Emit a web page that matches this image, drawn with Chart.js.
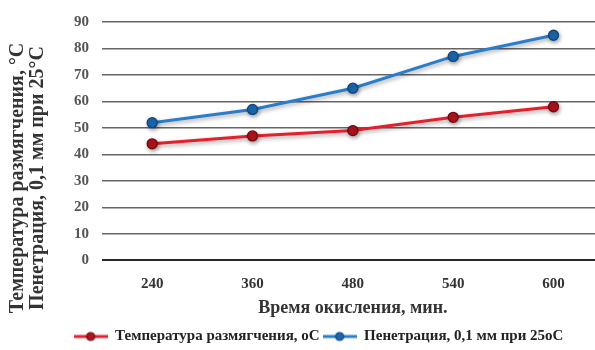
<!DOCTYPE html>
<html lang="ru">
<head>
<meta charset="utf-8">
<title>Время окисления</title>
<script src="https://cdn.jsdelivr.net/npm/chart.js@4/dist/chart.umd.min.js"></script>
<style>
  html, body { margin: 0; padding: 0; background: #fff; overflow: hidden; }
  #wrap { width: 610px; height: 350px; position: relative; }
</style>
</head>
<body>
<div id="wrap"><canvas id="grafico"></canvas></div>
<script>
/* ── Данные ─────────────────────────────────────────────── */
const categorias = ['240', '360', '480', '540', '600'];
const temperaturaRazmyagcheniya = [44, 47, 49, 54, 58];
const penetraciya = [52, 57, 65, 77, 85];
const nomeSeries = ['Температура размягчения, оС', 'Пенетрация, 0,1 мм при 25оС'];
const tituloEixoY = ['Температура размягчения, °С', 'Пенетрация, 0,1 мм при 25°С'];
const tituloEixoX = 'Время окисления, мин.';
const eixoYMin = 0, eixoYMax = 90, eixoYPasso = 10;

const FONTE = '"Liberation Serif", "Times New Roman", serif';
const VERMELHO = { linha: '#e51f2b', ponto: '#b3121e', borda: '#6e0a10' };
const AZUL     = { linha: '#2a7dcb', ponto: '#1a69b2', borda: '#0f4478' };

// Marcador da legenda: linha com círculo no meio
function marcadorLegenda(cor) {
  const c = document.createElement('canvas');
  c.width = 34; c.height = 12;
  const g = c.getContext('2d');
  g.strokeStyle = cor.linha; g.lineWidth = 3;
  g.beginPath(); g.moveTo(0, 6); g.lineTo(34, 6); g.stroke();
  g.fillStyle = cor.ponto; g.strokeStyle = cor.borda; g.lineWidth = 1.2;
  g.beginPath(); g.arc(17, 6, 4, 0, Math.PI * 2); g.fill(); g.stroke();
  return c;
}
const marcadores = [marcadorLegenda(VERMELHO), marcadorLegenda(AZUL)];

// Sombra suave sob as linhas
const sombraLinhas = {
  id: 'sombraLinhas',
  beforeDatasetsDraw(chart) {
    const ctx = chart.ctx;
    ctx.save();
    ctx.shadowColor = 'rgba(0,0,0,0.35)';
    ctx.shadowBlur = 4;
    ctx.shadowOffsetX = 1;
    ctx.shadowOffsetY = 2;
  },
  afterDatasetsDraw(chart) { chart.ctx.restore(); }
};

// Título do eixo Y em duas linhas, girado
const tituloY = {
  id: 'tituloY',
  afterDraw(chart) {
    const ctx = chart.ctx;
    ctx.save();
    ctx.font = 'bold 20px ' + FONTE;
    ctx.fillStyle = '#333';
    ctx.textAlign = 'center';
    ctx.textBaseline = 'middle';
    ctx.translate(0, 178);
    ctx.rotate(-Math.PI / 2);
    ctx.fillText(tituloEixoY[0], 0, 18);
    ctx.fillText(tituloEixoY[1], 0, 38);
    ctx.restore();
  }
};

new Chart(document.getElementById('grafico'), {
  type: 'line',
  data: {
    labels: categorias,
    datasets: [
      {
        label: nomeSeries[0],
        data: temperaturaRazmyagcheniya,
        borderColor: VERMELHO.linha,
        backgroundColor: VERMELHO.ponto,
        pointBackgroundColor: VERMELHO.ponto,
        pointBorderColor: VERMELHO.borda,
        borderWidth: 3,
        pointRadius: 5,
        pointBorderWidth: 1.3,
        tension: 0,
      },
      {
        label: nomeSeries[1],
        data: penetraciya,
        borderColor: AZUL.linha,
        backgroundColor: AZUL.ponto,
        pointBackgroundColor: AZUL.ponto,
        pointBorderColor: AZUL.borda,
        borderWidth: 3,
        pointRadius: 5,
        pointBorderWidth: 1.3,
        tension: 0,
      },
    ],
  },
  options: {
    responsive: true,
    maintainAspectRatio: false,
    animation: false,
    // padding à esquerda desloca a legenda; o eixo Y compensa a largura
    layout: { padding: { top: 13, right: 3, left: 30, bottom: -4 } },
    plugins: {
      tooltip: { enabled: false },
      legend: {
        position: 'bottom',
        labels: {
          color: '#222',
          font: { family: FONTE, size: 15, weight: 'bold' },
          usePointStyle: true,
          pointStyleWidth: 34,
          padding: 3,
          generateLabels(chart) {
            const itens = Chart.defaults.plugins.legend.labels.generateLabels(chart);
            itens.forEach((it, i) => { it.pointStyle = marcadores[i]; });
            return itens;
          },
        },
      },
    },
    scales: {
      x: {
        offset: true,
        grid: { display: false, drawTicks: false },
        border: { display: false },
        afterFit(escala) { escala.height -= 11; },
        ticks: { color: '#333', font: { family: FONTE, size: 15, weight: 'bold' }, padding: 15 },
        title: {
          display: true,
          text: tituloEixoX,
          color: '#333',
          font: { family: FONTE, size: 18, weight: 'bold' },
          padding: { top: 0, bottom: 7 },
        },
      },
      y: {
        min: eixoYMin,
        max: eixoYMax,
        border: { display: false },
        afterFit(escala) { escala.width = 72; },
        grid: {
          drawTicks: false,
          color: ctx => ctx.tick.value === 0 ? '#2a2a2a' : '#666',
          lineWidth: ctx => ctx.tick.value === 0 ? 2 : 1.5,
        },
        ticks: {
          stepSize: eixoYPasso,
          color: '#555',
          padding: 13,
          font: { family: FONTE, size: 15, weight: 'bold' },
        },
      },
    },
  },
  plugins: [sombraLinhas, tituloY],
});
</script>
</body>
</html>
